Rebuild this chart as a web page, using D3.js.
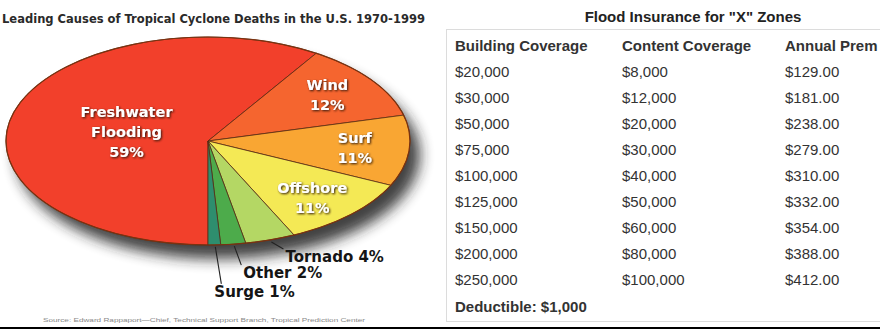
<!DOCTYPE html>
<html>
<head>
<meta charset="utf-8">
<script src="https://cdn.jsdelivr.net/npm/d3@7"></script>
<style>
  html, body { margin: 0; padding: 0; background: #fff; }
  svg { display: block; }
</style>
</head>
<body>
<div id="chart"></div>
<script>
// ---------- DATA ----------
const pieTitle = "Leading Causes of Tropical Cyclone Deaths in the U.S. 1970-1999";
const causes = ["Freshwater Flooding", "Wind", "Surf", "Offshore", "Tornado", "Other", "Surge"];
const causeShares = [59, 12, 11, 11, 4, 2, 1];
const causeColors = ["#f2402b", "#f5652f", "#f9a633", "#f4e955", "#b4d764", "#4dab4b", "#2e8e6e"];
const sourceNote = "Source: Edward Rappaport\u2014Chief, Technical Support Branch, Tropical Prediction Center";

const tableTitle = "Flood Insurance for \"X\" Zones";
const tableHeaders = ["Building Coverage", "Content Coverage", "Annual Prem"];
const buildingCoverage = [20000, 30000, 50000, 75000, 100000, 125000, 150000, 200000, 250000];
const contentCoverage = [8000, 12000, 20000, 30000, 40000, 50000, 60000, 80000, 100000];
const annualPremium = [129, 181, 238, 279, 310, 332, 354, 388, 412];
const deductibleNote = "Deductible: $1,000";

// ---------- SETUP ----------
const W = 880, H = 330;
const svg = d3.select("#chart").append("svg").attr("width", W).attr("height", H);
const defs = svg.append("defs");
defs.append("filter").attr("id", "blur").attr("x", "-20%").attr("y", "-20%").attr("width", "140%").attr("height", "140%")
  .append("feGaussianBlur").attr("stdDeviation", 7);
const ds = defs.append("filter").attr("id", "txtShadow").attr("x", "-10%").attr("y", "-30%").attr("width", "130%").attr("height", "160%");
ds.append("feDropShadow").attr("dx", 1).attr("dy", 1).attr("stdDeviation", 0.8).attr("flood-color", "#2a140c").attr("flood-opacity", 1);

// ---------- PIE ----------
svg.append("text").attr("x", 2).attr("y", 23)
  .attr("font-family", "DejaVu Sans Condensed, DejaVu Sans, sans-serif").attr("font-weight", "bold")
  .attr("font-size", 13).attr("fill", "#2a2a2a")
  .attr("textLength", 423).attr("lengthAdjust", "spacingAndGlyphs")
  .text(pieTitle);

const cx = 208, cy = 141, rx = 202, ry = 104;
const pie = d3.pie().sort(null).startAngle(Math.PI).endAngle(3 * Math.PI);
const arcs = pie(causeShares);
const arc = d3.arc().innerRadius(0).outerRadius(1);
const onEllipse = (a, f) => [cx + Math.sin(a) * rx * f, cy - Math.cos(a) * ry * f];

// shadow
svg.append("ellipse").attr("cx", cx + 10).attr("cy", cy + 14).attr("rx", rx).attr("ry", ry)
  .attr("fill", "#222").attr("opacity", 0.85).attr("filter", "url(#blur)");

const pg = svg.append("g").attr("transform", `translate(${cx},${cy}) scale(${rx},${ry})`);
pg.selectAll("path").data(arcs).join("path")
  .attr("d", arc)
  .attr("fill", (d, i) => causeColors[i])
  .attr("stroke", "#5a2a14").attr("stroke-width", 0.9).attr("stroke-opacity", 0.85)
  .attr("vector-effect", "non-scaling-stroke");
// darker rim
svg.append("ellipse").attr("cx", cx).attr("cy", cy).attr("rx", rx).attr("ry", ry)
  .attr("fill", "none").attr("stroke", "#7a3210").attr("stroke-width", 1.2);

// inside labels
const labelFont = "DejaVu Sans, Verdana, sans-serif";
const labelNudge = [3, -1, 0, 3];
arcs.forEach((d, i) => {
  if (i > 3) return;
  const mid = (d.startAngle + d.endAngle) / 2;
  const f = causeShares[i] > 50 ? 0.42 : 0.73;
  const [lx, ly] = onEllipse(mid, f);
  const lines = causes[i].split(" ").concat([causeShares[i] + "%"]);
  const lh = 20;
  const top = ly - (lines.length - 1) * lh / 2 + 5 + labelNudge[i];
  const t = svg.append("text").attr("text-anchor", "middle")
    .attr("font-family", labelFont).attr("font-weight", "bold").attr("font-size", 14.5)
    .attr("fill", "#fff").attr("filter", "url(#txtShadow)");
  lines.forEach((s, k) => t.append("tspan").attr("x", lx).attr("y", top + k * lh).text(s));
});

// outside labels with leader lines
const outsideDrop = [0, 0, 0, 0, 22, 34, 52];
const outsideShift = [0, 0, 0, 0, 15, 10, 0];
arcs.forEach((d, i) => {
  if (i < 4) return;
  const mid = (d.startAngle + d.endAngle) / 2;
  const [px, py] = onEllipse(mid, 1);
  const tx = px + outsideShift[i], ty = py + outsideDrop[i];
  svg.append("line").attr("x1", px + 1).attr("y1", py + 2)
    .attr("x2", tx + (i === 6 ? 7 : -2)).attr("y2", ty - 13)
    .attr("stroke", "#222").attr("stroke-width", 1.1);
  svg.append("text").attr("x", tx).attr("y", ty)
    .attr("font-family", labelFont).attr("font-weight", "bold").attr("font-size", 15)
    .attr("fill", "#151515")
    .text(causes[i] + " " + causeShares[i] + "%");
});

svg.append("text").attr("x", 43).attr("y", 322)
  .attr("font-family", "Liberation Sans, Arial, sans-serif").attr("font-size", 6)
  .attr("fill", "#888").attr("textLength", 322).attr("lengthAdjust", "spacingAndGlyphs")
  .text(sourceNote);

// ---------- TABLE ----------
const tFont = "Liberation Sans, Arial, Helvetica, sans-serif";
svg.append("text").attr("x", 693).attr("y", 22).attr("text-anchor", "middle")
  .attr("font-family", tFont).attr("font-weight", "bold").attr("font-size", 15).attr("fill", "#222")
  .text(tableTitle);
svg.append("rect").attr("x", 446.5).attr("y", 29.5).attr("width", 500).attr("height", 292)
  .attr("fill", "none").attr("stroke", "#dcdcdc").attr("stroke-width", 1);

const colX = d3.scalePoint().domain(tableHeaders).range([455, 785]);
const rowY = d3.scaleLinear().domain([0, 1]).range([77, 103]);
const money0 = d3.format("$,.0f");
const money2 = d3.format("$,.2f");

svg.selectAll("text.hdr").data(tableHeaders).join("text").attr("class", "hdr")
  .attr("x", h => colX(h) + (h === tableHeaders[1] ? 2 : 0)).attr("y", 51)
  .attr("font-family", tFont).attr("font-weight", "bold").attr("font-size", 15).attr("fill", "#333")
  .text(h => h);

const rows = buildingCoverage.map((b, i) => [money0(b), money0(contentCoverage[i]), money2(annualPremium[i])]);
rows.forEach((r, i) => {
  r.forEach((v, j) => {
    svg.append("text").attr("x", colX(tableHeaders[j]) + (j === 1 ? 2 : 0)).attr("y", rowY(i))
      .attr("font-family", tFont).attr("font-size", 15).attr("fill", "#333").text(v);
  });
});
svg.append("text").attr("x", colX(tableHeaders[0])).attr("y", rowY(rows.length) + 1)
  .attr("font-family", tFont).attr("font-weight", "bold").attr("font-size", 15).attr("fill", "#333")
  .text(deductibleNote);

// bottom rule
svg.append("line").attr("x1", 0).attr("x2", W).attr("y1", 328).attr("y2", 328)
  .attr("stroke", "#000").attr("stroke-width", 2);
</script>
</body>
</html>
